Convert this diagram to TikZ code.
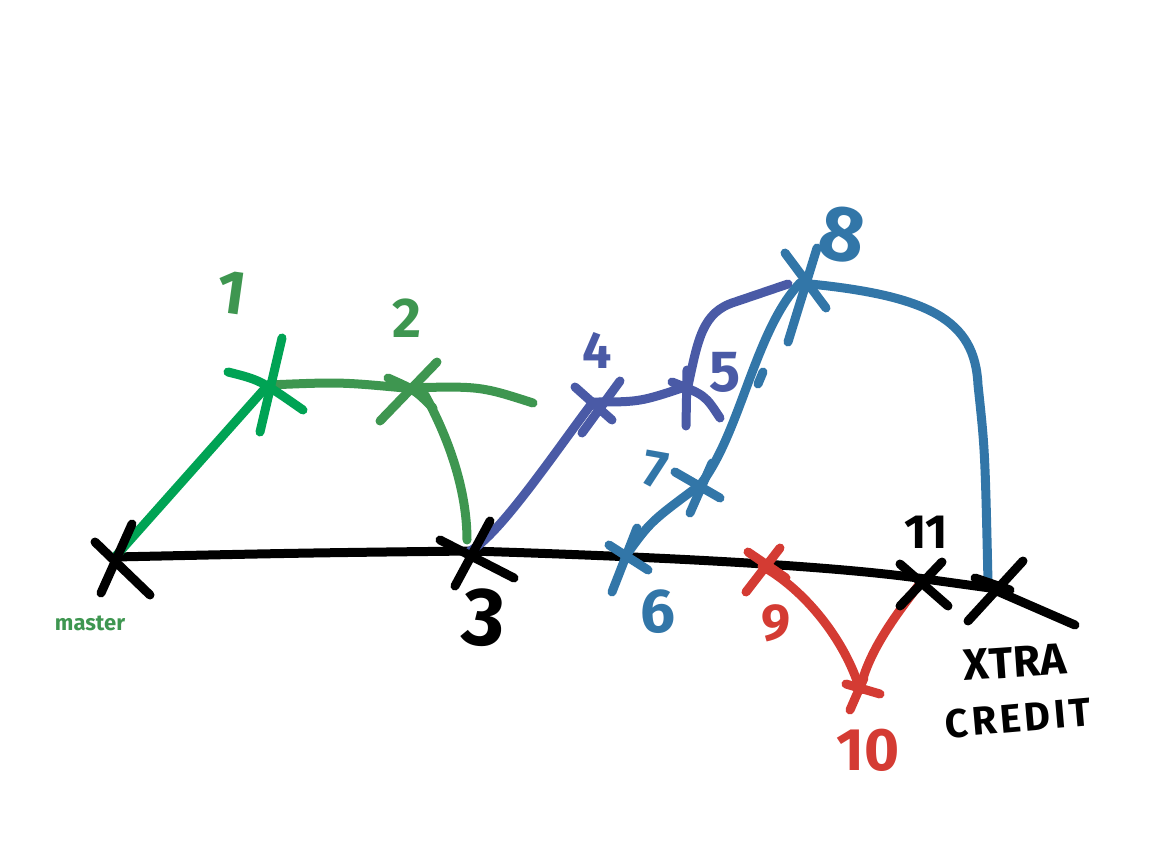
\documentclass[tikz,border=0pt]{standalone}
\usepackage{fontspec}
\setmainfont{Fira Sans}
\definecolor{gA}{HTML}{00A354}
\definecolor{gB}{HTML}{3E9650}
\definecolor{pu}{HTML}{4A5AA6}
\definecolor{bl}{HTML}{3276A8}
\definecolor{rd}{HTML}{D43B33}
\begin{document}
\begin{tikzpicture}[x=1pt,y=-1pt,
  stroke/.style={line width=9pt,line cap=round,line join=round},
  lbl/.style={font=\bfseries\fontsize{#1}{#1}\selectfont,inner sep=0pt}]
\useasboundingbox (0,0) rectangle (1168,856);
% commits
\coordinate (c0) at (115,557);
\coordinate (c1) at (268,385);
\coordinate (c2) at (405,388);
\coordinate (c2e) at (533,403);
\coordinate (c3) at (470,551);
\coordinate (c4) at (593,402);
\coordinate (c5) at (688,386);
\coordinate (c6) at (625,557);
\coordinate (c7) at (700,485);
\coordinate (c8) at (800,283);
\coordinate (c9) at (762,566);
\coordinate (c10) at (860,690);
\coordinate (c11) at (925,579);
\coordinate (cx) at (990,588);
\coordinate (cend) at (1075,625);
% main line
\draw[stroke,black] (c0) .. controls (300,553) .. (c3)
  .. controls (700,558) and (850,568) .. (c11) -- (cx) -- (cend);
% green
\draw[stroke,gA] (c0) -- (c1);
\draw[stroke,gB] (c1) .. controls (340,382) .. (c2) .. controls (480,386) .. (c2e);
\draw[stroke,gB] (425,395) .. controls (455,450) and (467,500) .. (467,540);
% purple
\draw[stroke,pu] (c3) .. controls (500,535) and (560,445) .. (c4);
\draw[stroke,pu] (c4) .. controls (640,402) .. (c5);
\draw[stroke,pu] (c5) .. controls (698,340) and (702,312) .. (735,302) -- (788,284);
% blue
\draw[stroke,bl] (c6) .. controls (650,522) .. (c7);
\draw[stroke,bl] (c7) .. controls (740,435) and (755,330) .. (c8);
\draw[stroke,bl] (763,372) -- (758,384);
\draw[stroke,bl] (c8) .. controls (930,295) and (975,320) .. (978,385)
  .. controls (985,450) .. (988,582);
% red
\draw[stroke,rd] (c9) .. controls (805,590) and (845,640) .. (c10);
\draw[stroke,rd] (c10) .. controls (868,650) and (900,610) .. (918,586);
% X marks
\draw[stroke,black] (95,542) -- (150,595) (132,524) -- (101,593);
\draw[stroke,gA] (228,372) .. controls (260,380) .. (303,410) (282,338) -- (260,432);
\draw[stroke,gB] (380,421) -- (437,362) (388,378) .. controls (415,390) .. (433,408);
\draw[stroke,black] (440,540) -- (514,578) (490,521) -- (455,586);
\draw[stroke,pu] (575,387) -- (612,420) (620,381) -- (582,433);
\draw[stroke,pu] (687,370) -- (686,426) (672,382) .. controls (705,395) .. (720,418);
\draw[stroke,bl] (609,545) -- (648,570) (637,528) -- (612,592);
\draw[stroke,bl] (675,472) -- (720,498) (712,463) -- (690,513);
\draw[stroke,bl] (785,253) -- (826,308) (817,248) -- (788,342);
\draw[stroke,rd] (748,552) -- (786,578) (780,548) -- (746,592);
\draw[stroke,rd] (846,684) -- (880,694) (864,678) -- (850,710);
\draw[stroke,black] (900,564) -- (948,606) (942,562) -- (900,606);
\draw[stroke,black] (1023,561) -- (968,621) (975,578) -- (1010,590);
% labels
\node[lbl=22,text=gB] (lm) at (90,623) {master};
\node[lbl=62,text=gB,rotate=-8] (l1) at (232,293) {1};
\node[lbl=56,text=gB] (l2) at (407,318) {2};
\node[lbl=82,text=black,rotate=-5] (l3) at (484,618) {3};
\node[lbl=52,text=pu] (l4) at (597,350) {4};
\node[lbl=58,text=pu] (l5) at (725,372) {5};
\node[lbl=62,text=bl] (l6) at (658,612) {6};
\node[lbl=52,text=bl,rotate=-10] (l7) at (655,470) {7};
\node[lbl=78,text=bl,rotate=-10] (l8) at (842,235) {8};
\node[lbl=52,text=rd] (l9) at (776,623) {9};
\node[lbl=60,text=rd] (l10) at (868,750) {10};
\node[lbl=48,text=black] (l11) at (926,532) {11};
\node[lbl=44,text=black,rotate=4] (lx1) at (1015,662) {XTRA};
\node[lbl=40,text=black,rotate=5] (lx2) at (1018,718) {C\kern3.5ptR\kern3.5ptE\kern3.5ptD\kern3.5ptI\kern3.5ptT};
\end{tikzpicture}
\end{document}
